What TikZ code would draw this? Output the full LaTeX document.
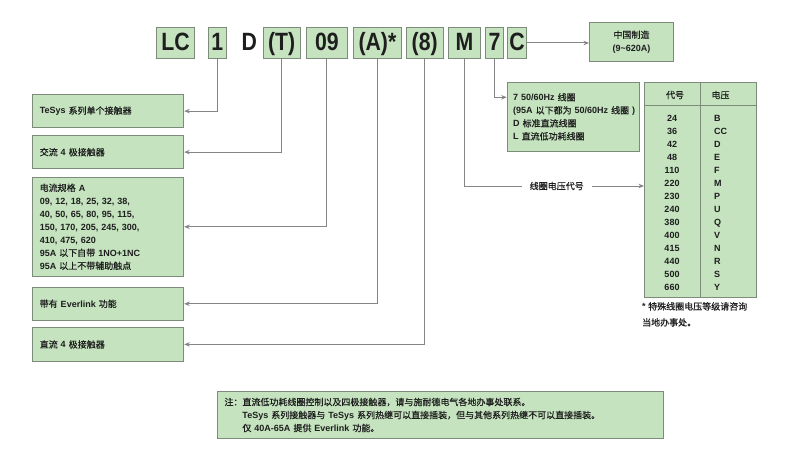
\documentclass[tikz,border=0pt]{standalone}
\usepackage{fontspec}
\setmainfont{Liberation Sans}
\newfontfamily\cjk{Noto Sans CJK SC}[FakeBold=0.6]
\newfontfamily\bigf{Liberation Sans}[FakeStretch=0.85]
\usetikzlibrary{arrows.meta,calc}
\definecolor{boxfill}{HTML}{C4E3BE}
\definecolor{boxline}{HTML}{7D8B7B}
\definecolor{connc}{HTML}{858585}
\definecolor{txt}{HTML}{1E1E1E}
\newcommand\z[1]{{\cjk\mdseries #1}}
\begin{document}
\begin{tikzpicture}[x=1pt,y=-1pt,
  box/.style={draw=boxline, fill=boxfill, line width=0.9pt, inner sep=0pt, anchor=north west, text=txt},
  code/.style={box, minimum height=31pt, text height=19pt, text depth=4pt, font=\bigf\bfseries\fontsize{25}{25}\selectfont},
  small/.style={text=txt, font=\bfseries\fontsize{9}{13}\selectfont},
  leftbox/.style={box, small, align=left, text width=137pt, inner xsep=7pt},
  conn/.style={draw=connc, line width=1pt, -{Stealth[length=5.5pt,width=4.5pt]}},
  lab/.style={small, fill=white, inner xsep=8pt, inner ysep=2pt},
  tt/.style={small, inner sep=0pt}]
\fill[white] (0,0) rectangle (790,471);
\useasboundingbox (0,0) rectangle (790,471);

% code boxes
\node[code, minimum width=38pt] (lc) at (156,27) {LC};
\node[code, minimum width=17.5pt] (one) at (208,27) {1};
\node[anchor=base, text=txt, inner sep=0pt, font=\bigf\bfseries\fontsize{25}{25}\selectfont] (d) at (249.3,50) {D};
\node[code, minimum width=36.5pt] (t) at (263,27) {(T)};
\node[code, minimum width=41pt] (nine) at (306,27) {09};
\node[code, minimum width=48pt] (a) at (353,27) {(A)*};
\node[code, minimum width=36.5pt] (eight) at (406,27) {(8)};
\node[code, minimum width=32pt] (m) at (448,27) {M};
\node[code, minimum width=18pt] (seven) at (485,27) {7};
\node[code, minimum width=19pt] (c) at (507,27) {C};

\node[box, small, minimum width=84pt, minimum height=39.3pt, align=center] (cn) at (589,21.7) {\z{中国制造}\\(9\textasciitilde620A)};

% left boxes
\node[leftbox, minimum height=33.3pt] (tesys) at (32.3,94) {TeSys \z{系列单个接触器}};
\node[leftbox, minimum height=33.3pt] (ac4) at (32.3,135) {\z{交流} 4 \z{极接触器}};
\node[leftbox, minimum height=99.3pt] (cur) at (32.3,176.7) {\z{电流规格} A\\09, 12, 18, 25, 32, 38,\\40, 50, 65, 80, 95, 115,\\150, 170, 205, 245, 300,\\410, 475, 620\\95A \z{以下自带} 1NO+1NC\\95A \z{以上不带辅助触点}};
\node[leftbox, minimum height=33.3pt] (ever) at (32.3,286.7) {\z{带有} Everlink \z{功能}};
\node[leftbox, minimum height=33.3pt] (dc4) at (32.3,327.3) {\z{直流} 4 \z{极接触器}};

% coil box
\node[box, small, align=left, text width=120.6pt, inner xsep=6pt, minimum height=69.3pt] (coil) at (506.7,81.7)
  {\mbox{7 50/60Hz \z{线圈}}\\\mbox{(95A \z{以下都为} 50/60Hz \z{线圈} )}\\\mbox{D \z{标准直流线圈}}\\\mbox{L \z{直流低功耗线圈}}};

% table
\node[box, minimum width=112pt, minimum height=215.6pt] (tab) at (644,81.7) {};
\draw[boxline, line width=0.9pt] ($(tab.north west)+(56,0)$) -- ($(tab.south west)+(56,0)$);
\draw[boxline, line width=0.9pt] ($(tab.north west)+(0,24)$) -- ($(tab.north east)+(0,24)$);
\node[tt] (h1) at (675,95) {\z{代号}};
\node[tt] (h2) at (720.5,95) {\z{电压}};
\foreach \n/\v [count=\i from 0] in {24/B,36/CC,42/D,48/E,110/F,220/M,230/P,240/U,380/Q,400/V,415/N,440/R,500/S,660/Y}{
  \node[tt, anchor=base] (n\i) at (672,{121+13.05*\i}) {\n};
  \node[tt, anchor=base west] (v\i) at (714,{121+13.05*\i}) {\v};
}
\node[tt, anchor=north west, align=left, font=\bfseries\fontsize{9}{16}\selectfont] (tnote) at (642,302) {* \z{特殊线圈电压等级请咨询}\\\z{当地办事处。}};

% bottom note
\node[box, small, minimum width=446pt, minimum height=47pt, align=left, text width=432pt, inner xsep=7pt] (note) at (217,391)
  {\z{注：直流低功耗线圈控制以及四极接触器，请与施耐德电气各地办事处联系。}\\\z{\phantom{注：}}TeSys \z{系列接触器与} TeSys \z{系列热继可以直接插装，但与其他系列热继不可以直接插装。}\\\z{\phantom{注：}仅} 40A-65A \z{提供} Everlink \z{功能。}};

% connectors
\draw[conn] (one.south) |- (tesys.east);
\draw[conn] (t.south) |- (ac4.east);
\draw[conn] (nine.south) |- (cur.east);
\draw[conn] (a.south) |- (ever.east);
\draw[conn] (eight.south) |- (dc4.east);
\draw[conn] (seven.south) |- ($(coil.north west)+(0,15.6)$);
\draw[conn] (m.south) |- node[lab, pos=0.757] (lbl) {\z{线圈电压代号}} ($(tab.north west)+(0,104.3)$);
\draw[conn] (c.east) -- (c.east -| cn.west);
\end{tikzpicture}
\end{document}
